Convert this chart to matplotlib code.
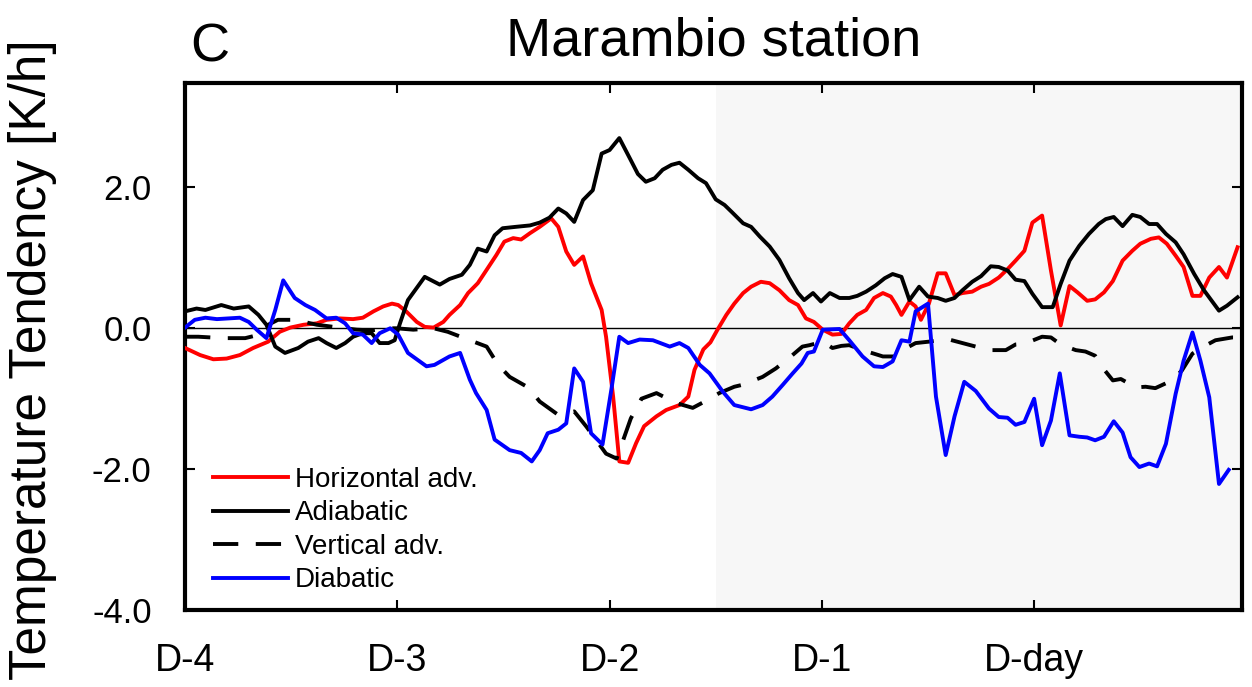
import matplotlib
matplotlib.use("Agg")
import matplotlib.pyplot as plt

plt.rcParams['font.family'] = ['Liberation Sans', 'DejaVu Sans']

# hours from D-4, values in K/h
horiz_h = [0.0, 1.7, 3.2, 4.7, 6.2, 7.7, 9.4, 10.7, 11.9, 13.4, 14.9, 16.0, 17.5, 19.0,
           20.1, 21.3, 22.4, 23.4, 24.1, 25.0, 26.2, 27.1, 28.1, 29.2, 29.9, 31.1, 32.0,
           33.1, 34.1, 35.2, 36.1, 37.1, 38.0, 39.0, 40.1, 41.4, 42.2, 43.1, 44.0, 45.0,
           45.9, 47.1, 47.6, 48.4, 49.1, 50.1, 51.0, 51.9, 53.3, 54.4, 55.9, 56.9, 57.6,
           58.6, 59.4, 60.2, 61.2, 62.1, 63.1, 64.0, 65.1, 66.1, 67.2, 68.3, 69.3, 70.2,
           71.1, 72.1, 73.2, 74.2, 75.1, 76.0, 77.0, 77.9, 78.9, 79.8, 80.4, 81.0, 81.9,
           82.6, 83.2, 84.1, 85.1, 86.0, 87.0, 87.9, 89.0, 90.0, 90.9, 92.0, 93.0, 93.9,
           94.9, 95.8, 96.9, 97.9, 99.0, 100.0, 100.9, 102.0, 102.9, 103.9, 104.9, 106.0,
           107.1, 108.0, 109.2, 110.1, 111.0, 112.0, 112.9, 113.9, 114.8, 115.8, 116.9,
           117.8, 119.0]
horiz = [-0.28, -0.38, -0.44, -0.43, -0.38, -0.28, -0.19, -0.05, 0.01, 0.05, 0.07, 0.12,
         0.14, 0.13, 0.15, 0.24, 0.31, 0.35, 0.33, 0.24, 0.09, 0.02, 0.01, 0.09, 0.19, 0.33,
         0.50, 0.64, 0.83, 1.04, 1.23, 1.28, 1.26, 1.35, 1.44, 1.56, 1.44, 1.09, 0.90, 1.02,
         0.64, 0.26, -0.12, -0.97, -1.89, -1.91, -1.63, -1.39, -1.25, -1.16, -1.09, -0.97,
         -0.59, -0.30, -0.20, -0.02, 0.19, 0.35, 0.50, 0.59, 0.66, 0.64, 0.54, 0.40, 0.33,
         0.14, 0.09, -0.02, -0.09, -0.08, 0.07, 0.19, 0.26, 0.43, 0.50, 0.45, 0.33, 0.19,
         0.38, 0.31, 0.12, 0.35, 0.78, 0.78, 0.47, 0.50, 0.52, 0.59, 0.63, 0.72, 0.84, 0.96,
         1.10, 1.50, 1.60, 0.82, 0.04, 0.60, 0.51, 0.39, 0.41, 0.51, 0.67, 0.96, 1.10, 1.20,
         1.27, 1.29, 1.20, 1.03, 0.87, 0.46, 0.46, 0.72, 0.87, 0.72, 1.15]

adiab_h = [0.0, 1.3, 2.3, 4.1, 5.5, 7.2, 8.3, 9.2, 10.2, 11.3, 12.8, 13.9, 15.1, 16.0, 17.1,
           18.1, 19.0, 20.1, 21.1, 22.0, 23.0, 23.7, 24.3, 25.2, 27.1, 28.8, 29.9, 31.3,
           32.2, 33.1, 34.1, 35.0, 35.9, 37.4, 39.0, 40.1, 41.2, 42.2, 43.1, 44.0, 45.0,
           46.1, 47.1, 48.0, 49.1, 50.3, 51.2, 52.1, 53.1, 54.0, 55.0, 55.9, 56.9, 58.0,
           58.9, 60.0, 61.0, 61.9, 63.1, 64.0, 65.0, 66.1, 67.2, 68.3, 69.3, 70.0, 71.0,
           71.9, 72.9, 74.0, 75.1, 76.0, 77.0, 78.1, 79.1, 80.0, 81.0, 81.9, 83.0, 84.0,
           85.1, 86.0, 87.0, 87.9, 89.0, 90.0, 91.1, 92.0, 93.0, 93.9, 94.9, 95.8, 96.9,
           98.1, 99.0, 100.0, 101.1, 102.2, 103.3, 104.1, 105.0, 106.0, 107.1, 108.0, 109.0,
           109.9, 110.9, 112.0, 112.9, 114.1, 115.2, 116.9, 117.8, 119.0]
adiab = [0.24, 0.28, 0.26, 0.33, 0.28, 0.31, 0.19, 0.05, -0.26, -0.35, -0.28, -0.19, -0.14,
         -0.21, -0.28, -0.21, -0.12, -0.07, -0.07, -0.21, -0.21, -0.17, 0.07, 0.40, 0.73,
         0.62, 0.70, 0.76, 0.90, 1.13, 1.09, 1.32, 1.42, 1.44, 1.46, 1.50, 1.57, 1.70, 1.63,
         1.51, 1.82, 1.96, 2.48, 2.53, 2.70, 2.41, 2.19, 2.08, 2.13, 2.25, 2.32, 2.35, 2.25,
         2.13, 2.06, 1.83, 1.75, 1.64, 1.49, 1.44, 1.30, 1.16, 0.97, 0.71, 0.50, 0.40, 0.50,
         0.38, 0.50, 0.43, 0.43, 0.46, 0.52, 0.61, 0.71, 0.77, 0.73, 0.40, 0.59, 0.45, 0.43,
         0.39, 0.43, 0.54, 0.66, 0.74, 0.88, 0.87, 0.82, 0.69, 0.67, 0.49, 0.30, 0.30, 0.63,
         0.96, 1.17, 1.34, 1.48, 1.55, 1.58, 1.45, 1.61, 1.58, 1.48, 1.48, 1.34, 1.22, 1.05,
         0.77, 0.54, 0.25, 0.32, 0.44]

vert_h = [0.0, 1.5, 4.3, 6.8, 8.1, 9.4, 10.5, 12.4, 14.9, 16.8, 19.4, 21.1, 22.8, 23.9, 25.8,
          28.1, 29.7, 32.2, 34.1, 35.4, 36.7, 38.8, 40.1, 42.2, 44.0, 45.4, 47.6, 48.8, 50.4,
          51.6, 53.3, 55.5, 57.4, 58.9, 60.4, 62.1, 63.1, 65.3, 66.8, 68.5, 69.8, 70.6, 72.1,
          73.2, 74.2, 75.1, 76.6, 78.9, 80.4, 81.1, 82.6, 84.1, 85.6, 86.4, 87.9, 89.4, 90.9,
          92.8, 93.9, 94.9, 96.9, 97.9, 99.0, 100.7, 101.8, 102.9, 104.0, 104.9, 105.8, 107.5,
          108.6, 109.7, 111.6, 112.7, 113.9, 115.0, 116.5, 118.4, 119.1]
vert = [-0.12, -0.12, -0.14, -0.14, -0.10, 0.05, 0.12, 0.12, 0.05, 0.02, -0.02, -0.03, 0.0,
        0.0, -0.02, 0.0, -0.05, -0.17, -0.26, -0.52, -0.69, -0.84, -1.04, -1.23, -1.18,
        -1.40, -1.78, -1.85, -1.28, -1.00, -0.92, -1.06, -1.13, -1.03, -0.92, -0.83, -0.80,
        -0.69, -0.57, -0.40, -0.26, -0.24, -0.19, -0.28, -0.25, -0.24, -0.31, -0.40, -0.40,
        -0.31, -0.21, -0.19, -0.16, -0.16, -0.21, -0.26, -0.31, -0.31, -0.23, -0.22, -0.12,
        -0.13, -0.23, -0.31, -0.33, -0.39, -0.60, -0.74, -0.72, -0.84, -0.83, -0.85, -0.74,
        -0.60, -0.36, -0.27, -0.17, -0.13, -0.13]

diab_h = [0.0, 1.1, 2.3, 3.6, 4.9, 6.2, 7.2, 8.1, 9.2, 10.2, 11.1, 12.4, 13.6, 14.7, 16.0,
          17.1, 18.1, 19.0, 20.1, 21.1, 22.0, 23.2, 24.1, 25.2, 27.3, 28.2, 29.9, 31.1, 32.2,
          32.9, 34.1, 35.0, 36.7, 38.0, 39.2, 40.1, 41.0, 42.2, 43.1, 44.0, 45.0, 45.9, 47.2,
          48.2, 49.1, 50.1, 51.4, 52.9, 54.8, 55.9, 56.9, 58.2, 59.3, 60.8, 62.1, 64.0, 65.3,
          66.4, 67.6, 68.7, 69.7, 70.4, 71.1, 72.1, 74.0, 75.1, 76.6, 77.9, 78.9, 80.0, 81.0,
          81.9, 82.6, 84.0, 84.9, 86.0, 87.0, 88.1, 89.4, 90.9, 92.0, 93.0, 93.9, 94.9, 96.0,
          96.9, 97.9, 98.9, 100.0, 101.1, 102.0, 102.9, 103.9, 105.0, 106.0, 106.9, 107.9,
          109.0, 109.9, 110.9, 112.0, 112.9, 113.9, 114.8, 115.8, 116.9, 118.0]
diab = [0.01, 0.12, 0.15, 0.13, 0.14, 0.15, 0.09, -0.02, -0.14, 0.26, 0.68, 0.43, 0.33, 0.26,
        0.14, 0.15, 0.07, -0.07, -0.09, -0.21, -0.07, 0.0, -0.09, -0.35, -0.54, -0.52, -0.40,
        -0.35, -0.73, -0.92, -1.16, -1.58, -1.73, -1.77, -1.89, -1.73, -1.49, -1.44, -1.35,
        -0.57, -0.76, -1.49, -1.65, -0.87, -0.12, -0.21, -0.16, -0.17, -0.26, -0.21, -0.28,
        -0.52, -0.64, -0.90, -1.09, -1.15, -1.09, -0.97, -0.80, -0.64, -0.50, -0.35, -0.33,
        -0.02, -0.01, -0.17, -0.40, -0.54, -0.55, -0.47, -0.17, -0.19, 0.24, 0.35, -0.97,
        -1.80, -1.25, -0.76, -0.89, -1.14, -1.26, -1.27, -1.37, -1.33, -1.00, -1.66, -1.31,
        -0.64, -1.52, -1.54, -1.55, -1.59, -1.54, -1.32, -1.48, -1.83, -1.97, -1.92, -1.96,
        -1.64, -0.93, -0.46, -0.06, -0.46, -0.98, -2.21, -2.01]

day_ticks = [0, 24, 48, 72, 96]
day_labels = ['D-4', 'D-3', 'D-2', 'D-1', 'D-day']
y_ticks = [2.0, 0.0, -2.0, -4.0]

fig = plt.figure(figsize=(12.52, 6.87), dpi=100)
ax = fig.add_axes([0.1478, 0.112, 0.8442, 0.767])

ax.axvspan(60, 119.5, color='#f7f7f7', zorder=0, lw=0)
ax.axhline(0, color='black', lw=1.0, zorder=1)

lw = 2.8
ax.plot(horiz_h, horiz, color='#ff0000', lw=lw, label='Horizontal adv.', zorder=3)
ax.plot(adiab_h, adiab, color='black', lw=lw, label='Adiabatic', zorder=3)
ax.plot(vert_h, vert, color='black', lw=lw, ls=(0, (6.5, 4.5)), label='Vertical adv.', zorder=3)
ax.plot(diab_h, diab, color='#0000ff', lw=lw, label='Diabatic', zorder=3)

ax.set_xlim(0, 119.5)
ax.set_ylim(-4.0, 3.48)
ax.set_xticks(day_ticks)
ax.set_xticklabels(day_labels)
ax.set_yticks(y_ticks)
ax.set_yticklabels(['%.1f' % v for v in y_ticks])
ax.tick_params(direction='in', top=True, right=True, length=7, width=1.5)
ax.tick_params(axis='x', labelsize=27, pad=24)
ax.tick_params(axis='y', labelsize=25, pad=24)
for s in ax.spines.values():
    s.set_linewidth(3)

ax.set_title('Marambio station', fontsize=39, pad=20)
fig.text(190 / 1252, 1 - 62 / 687, 'C', fontsize=39, va='baseline', ha='left')
fig.text(33 / 1252, 0.476, 'Temperature Tendency [K/h]', fontsize=37,
         rotation=90, va='center', ha='center')

leg = ax.legend(loc='upper left', bbox_to_anchor=(0.0265, 0.272), frameon=False,
                fontsize=20, handlelength=2.7, handletextpad=0.25, labelspacing=0.27,
                borderpad=0, borderaxespad=0)

fig.savefig('out.png', dpi=100)
